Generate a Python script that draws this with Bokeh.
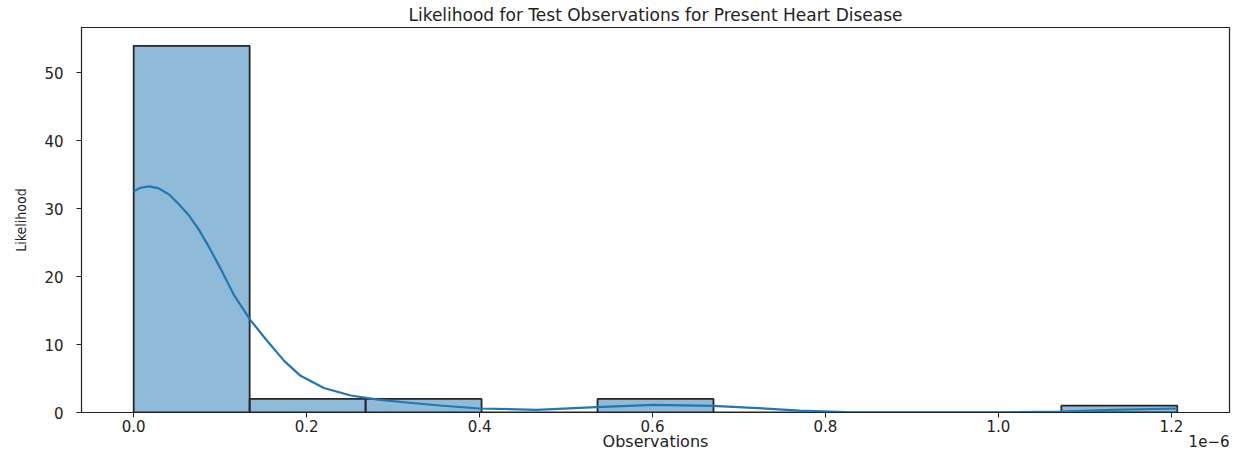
from bokeh.plotting import figure
from bokeh.models import Range1d, FixedTicker, Label, ColumnDataSource
from bokeh.embed import file_html
from bokeh.resources import INLINE

# ---- data (observations in units of 1e-6) ----
bin_left = [0.0, 0.1341, 0.2682, 0.4023, 0.5364, 0.6705, 0.8046, 0.9387, 1.0728]
bin_right = [0.1341, 0.2682, 0.4023, 0.5364, 0.6705, 0.8046, 0.9387, 1.0728, 1.2069]
counts = [54, 2, 2, 0, 2, 0, 0, 0, 1]

kde_x = [0.0, 0.008, 0.018, 0.029, 0.041, 0.052, 0.064, 0.075, 0.087, 0.100,
         0.116, 0.135, 0.154, 0.174, 0.193, 0.220, 0.251, 0.285, 0.316, 0.354,
         0.40, 0.466, 0.535, 0.601, 0.670, 0.716, 0.77, 0.824, 0.92, 1.016,
         1.072, 1.132, 1.207]
kde_y = [32.6, 33.1, 33.3, 33.0, 32.1, 30.7, 29.0, 27.0, 24.4, 21.3,
         17.3, 13.6, 10.6, 7.6, 5.4, 3.6, 2.5, 1.86, 1.47, 1.03,
         0.59, 0.39, 0.78, 1.13, 0.98, 0.69, 0.29, 0.05, 0.02, 0.05,
         0.15, 0.39, 0.59]

x_ticks = [0.0, 0.2, 0.4, 0.6, 0.8, 1.0, 1.2]
x_tick_labels = ["0.0", "0.2", "0.4", "0.6", "0.8", "1.0", "1.2"]
y_ticks = [0, 10, 20, 30, 40, 50]

title_text = "Likelihood for Test Observations for Present Heart Disease"
x_label = "Observations"
y_label = "Likelihood"
offset_text = "1e\u22126"

# ---- figure ----
span = max(bin_right) - min(bin_left)
x_lo = min(bin_left) - 0.05 * span
x_hi = max(bin_right) + 0.05 * span
y_hi = max(counts) * 1.05

p = figure(frame_width=1148, frame_height=385,
           min_border_left=81, min_border_right=4,
           min_border_top=19, min_border_bottom=31,
           x_range=Range1d(x_lo, x_hi), y_range=Range1d(0, y_hi),
           output_backend="svg", toolbar_location=None,
           title=title_text)

p.title.align = "center"
p.title.text_font = "DejaVu Sans"
p.title.text_font_size = "17px"
p.title.text_font_style = "normal"
p.title.text_color = "#222222"
p.title.standoff = 5
p.title.offset = 0

p.xgrid.visible = False
p.ygrid.visible = False
p.outline_line_color = "#222222"
p.outline_line_width = 1.2
p.background_fill_color = "white"
p.border_fill_color = "white"

src = ColumnDataSource(dict(left=bin_left, right=bin_right, top=counts,
                            bottom=[0] * len(counts)))
p.quad(left="left", right="right", top="top", bottom="bottom", source=src,
       fill_color="#1f77b4", fill_alpha=0.5,
       line_color="#262626", line_width=1.8)

p.line(kde_x, kde_y, line_color="#1f77b4", line_width=2.2)

for ax in (p.xaxis[0], p.yaxis[0]):
    ax.axis_line_color = "#222222"
    ax.major_tick_line_color = "#222222"
    ax.major_tick_out = 5
    ax.major_tick_in = 0
    ax.minor_tick_line_color = None
    ax.major_label_text_font = "DejaVu Sans"
    ax.major_label_text_font_size = "15px"
    ax.major_label_text_color = "#222222"

p.xaxis.ticker = FixedTicker(ticks=x_ticks)
p.xaxis.major_label_overrides = {t: l for t, l in zip(x_ticks, x_tick_labels)}
p.xaxis.major_label_standoff = 2
p.xaxis.axis_label = x_label
p.xaxis.axis_label_text_font = "DejaVu Sans"
p.xaxis.axis_label_text_font_size = "16px"
p.xaxis.axis_label_text_font_style = "normal"
p.xaxis.axis_label_text_color = "#222222"
p.xaxis.axis_label_standoff = -3

p.yaxis.ticker = FixedTicker(ticks=y_ticks)
p.yaxis.major_label_standoff = 13
p.yaxis.axis_label = y_label
p.yaxis.axis_label_text_font = "DejaVu Sans Condensed, Lato"
p.yaxis.axis_label_text_font_size = "14px"
p.yaxis.axis_label_text_font_style = "normal"
p.yaxis.axis_label_text_color = "#222222"
p.yaxis.axis_label_standoff = 12

p.add_layout(Label(x=x_hi, y=25, x_units="data", y_units="screen",
                   text=offset_text, text_align="right",
                   text_baseline="middle", text_font="DejaVu Sans",
                   text_font_size="15px", text_color="#222222"), "below")

open("out.html", "w").write(file_html(p, INLINE))
